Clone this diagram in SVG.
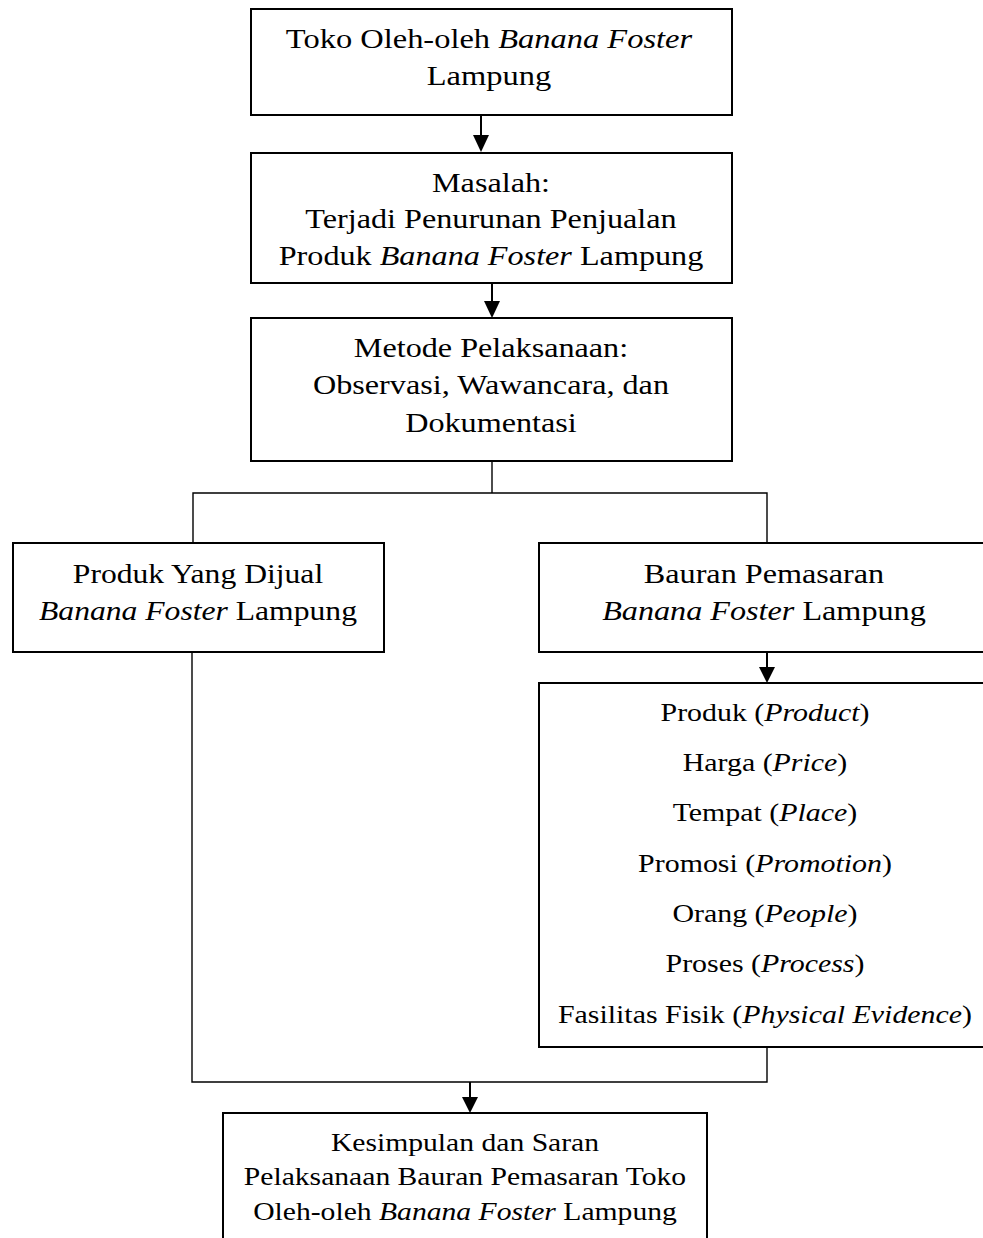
<svg xmlns="http://www.w3.org/2000/svg" width="983" height="1238" viewBox="0 0 983 1238">
<style>
.box{fill:#fff;stroke:#000;stroke-width:2}
.t{font-family:"Liberation Serif","Times New Roman",serif;font-size:28px;fill:#000;text-anchor:middle}
.s{font-size:26px}
.i{font-style:italic}
.ln{fill:none;stroke:#000;stroke-width:1.4}
.ar{fill:none;stroke:#000;stroke-width:2}
</style>
<g id="connectors">
<line class="ar" x1="481" y1="115" x2="481" y2="135"/>
<path d="M473,135 L489,135 L481,152 Z"/>
<line class="ar" x1="492" y1="283" x2="492" y2="301"/>
<path d="M484,301 L500,301 L492,318 Z"/>
<polyline class="ln" points="492,461 492,493"/>
<polyline class="ln" points="193,543 193,493 767,493 767,543"/>
<line class="ar" x1="767" y1="652" x2="767" y2="667"/>
<path d="M759,667 L775,667 L767,683 Z"/>
<polyline class="ln" points="192,652 192,1082 767,1082 767,1047"/>
<line class="ar" x1="470" y1="1082" x2="470" y2="1097"/>
<path d="M462,1097 L478,1097 L470,1113 Z"/>
</g>
<g id="n1">
<rect class="box" x="251" y="9" width="481" height="106"/>
<g transform="matrix(1.16 0 0 1 -78.24 0)">
<text class="t" x="489" y="48">Toko Oleh-oleh <tspan class="i">Banana Foster</tspan></text>
<text class="t" x="489" y="85">Lampung</text>
</g>
</g>
<g id="n2">
<rect class="box" x="251" y="153" width="481" height="130"/>
<g transform="matrix(1.15 0 0 1 -73.65 0)">
<text class="t" x="491" y="192">Masalah:</text>
<text class="t" x="491" y="228">Terjadi Penurunan Penjualan</text>
<text class="t" x="491" y="265">Produk <tspan class="i">Banana Foster</tspan> Lampung</text>
</g>
</g>
<g id="n3">
<rect class="box" x="251" y="318" width="481" height="143"/>
<g transform="matrix(1.15 0 0 1 -73.65 0)">
<text class="t" x="491" y="357">Metode Pelaksanaan:</text>
<text class="t" x="491" y="394">Observasi, Wawancara, dan</text>
<text class="t" x="491" y="432">Dokumentasi</text>
</g>
</g>
<g id="n4">
<rect class="box" x="13" y="543" width="371" height="109"/>
<g transform="matrix(1.13 0 0 1 -25.74 0)">
<text class="t" x="198" y="583">Produk Yang Dijual</text>
<text class="t" x="198" y="620"><tspan class="i">Banana Foster</tspan> Lampung</text>
</g>
</g>
<g id="n5">
<rect class="box" x="539" y="543" width="450" height="109"/>
<g transform="matrix(1.15 0 0 1 -114.6 0)">
<text class="t" x="764" y="583">Bauran Pemasaran</text>
<text class="t" x="764" y="620"><tspan class="i">Banana Foster</tspan> Lampung</text>
</g>
</g>
<g id="n6">
<rect class="box" x="539" y="683" width="450" height="364"/>
<g transform="matrix(1.15 0 0 1 -114.75 0)">
<text class="t s" x="765" y="721">Produk (<tspan class="i">Product</tspan>)</text>
<text class="t s" x="765" y="771">Harga (<tspan class="i">Price</tspan>)</text>
<text class="t s" x="765" y="821">Tempat (<tspan class="i">Place</tspan>)</text>
<text class="t s" x="765" y="872">Promosi (<tspan class="i">Promotion</tspan>)</text>
<text class="t s" x="765" y="922">Orang (<tspan class="i">People</tspan>)</text>
<text class="t s" x="765" y="972">Proses (<tspan class="i">Process</tspan>)</text>
<text class="t s" x="765" y="1023">Fasilitas Fisik (<tspan class="i">Physical Evidence</tspan>)</text>
</g>
</g>
<g id="n7">
<rect class="box" x="223" y="1113" width="484" height="140"/>
<g transform="matrix(1.14 0 0 1 -65.1 0)">
<text class="t s" x="465" y="1151">Kesimpulan dan Saran</text>
<text class="t s" x="465" y="1185">Pelaksanaan Bauran Pemasaran Toko</text>
<text class="t s" x="465" y="1220">Oleh-oleh <tspan class="i">Banana Foster</tspan> Lampung</text>
</g>
</g>
</svg>
